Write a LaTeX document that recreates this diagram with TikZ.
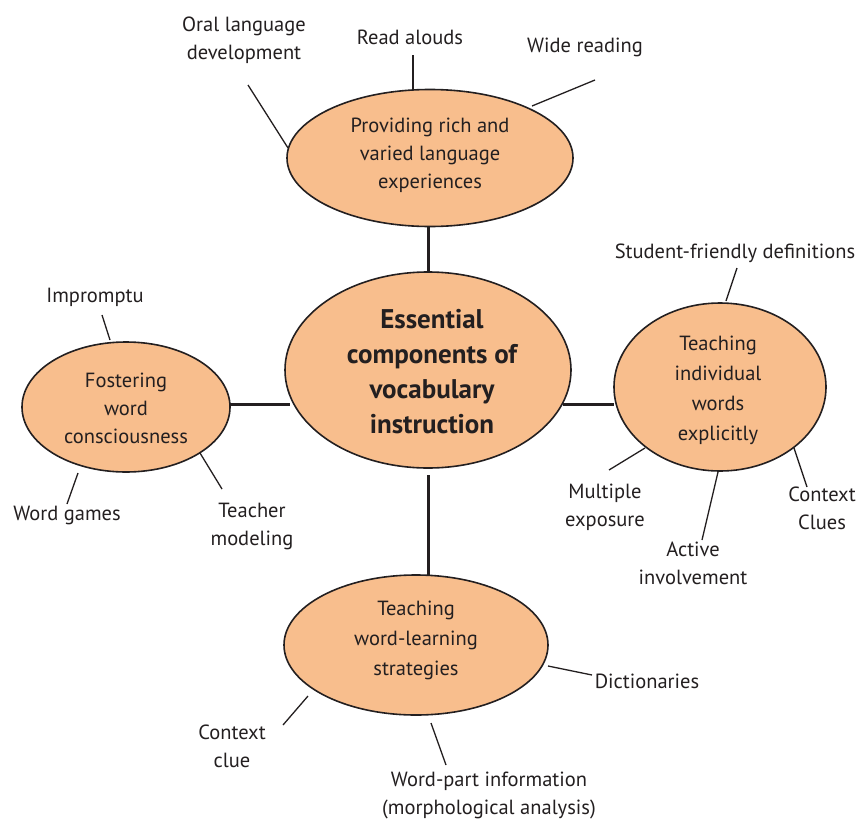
\documentclass[tikz,border=0pt]{standalone}
\usepackage{fontspec}
\setmainfont{PT Sans}
\usetikzlibrary{shapes.geometric}
\definecolor{peach}{HTML}{F8BE8D}
\definecolor{ink}{HTML}{231F20}
\begin{document}
\begin{tikzpicture}[x=1pt,y=-1pt,
  bub/.style={ellipse,draw=ink,line width=1.6pt,fill=peach,inner sep=0pt},
  lbl/.style={align=center,text=ink,font=\fontsize{20.5}{28}\selectfont,inner sep=0pt},
  spoke/.style={draw=ink,line width=1.3pt},
  trunk/.style={draw=ink,line width=3pt}]
\useasboundingbox (0,0) rectangle (861,819);
% ellipses
\node[bub,minimum width=286pt,minimum height=137pt] (top) at (430,158) {};
\node[bub,minimum width=286pt,minimum height=196pt] (ctr) at (428,370) {};
\node[bub,minimum width=208pt,minimum height=130pt] (lft) at (126,407) {};
\node[bub,minimum width=212pt,minimum height=168pt] (rgt) at (720,387) {};
\node[bub,minimum width=264pt,minimum height=140pt] (bot) at (416,645) {};
% ellipse texts
\node[lbl] (topt) at (430,155) {Providing rich and\\varied language\\experiences};
\node[lbl,font=\bfseries\fontsize{27}{35}\selectfont] (ctrt) at (432,372) {Essential\\components of\\vocabulary\\instruction};
\node[lbl] (lftt) at (126,408) {Fostering\\word\\consciousness};
\node[lbl,font=\fontsize{20.5}{30}\selectfont] (rgtt) at (718,390) {Teaching\\individual\\words\\explicitly};
\node[lbl,font=\fontsize{20.5}{30}\selectfont] (bott) at (416,640) {Teaching\\word-learning\\strategies};
% trunks
\coordinate (t1) at (428,227); \coordinate (t2) at (428,272);
\coordinate (l1) at (230,404); \coordinate (l2) at (290,404);
\coordinate (r1) at (563,404); \coordinate (r2) at (614,404);
\coordinate (b1) at (428,475); \coordinate (b2) at (428,576);
\draw[trunk] (t1) -- (t2);
\draw[trunk] (l1) -- (l2);
\draw[trunk] (r1) -- (r2);
\draw[trunk] (b1) -- (b2);
% labels
\node[lbl] (oral) at (244,40) {Oral language\\development};
\node[lbl] (read) at (410,37) {Read alouds};
\node[lbl] (wide) at (585,47) {Wide reading};
\node[lbl] (stud) at (735,253) {Student-friendly definitions};
\node[lbl] (impr) at (95,297) {Impromptu};
\node[lbl] (wgam) at (67,515) {Word games};
\node[lbl] (teach) at (252,526) {Teacher\\modeling};
\node[lbl] (mult) at (605,507) {Multiple\\exposure};
\node[lbl] (ctxc) at (822,508) {Context\\Clues};
\node[lbl] (act) at (693,563) {Active\\involvement};
\node[lbl] (dict) at (647,681) {Dictionaries};
\node[lbl] (ctxl) at (232,746) {Context\\clue};
\node[lbl] (wpart) at (489,795) {Word-part information\\(morphological analysis)};
% spokes
\coordinate (s1a) at (248,85);  \coordinate (s1b) at (288,148);
\coordinate (s2a) at (413,55);  \coordinate (s2b) at (413,90);
\coordinate (s3a) at (595,80);  \coordinate (s3b) at (532,106);
\coordinate (s4a) at (737,268); \coordinate (s4b) at (726,301);
\coordinate (s5a) at (102,315); \coordinate (s5b) at (110,340);
\coordinate (s6a) at (78,473);  \coordinate (s6b) at (67,504);
\coordinate (s7a) at (200,453); \coordinate (s7b) at (222,489);
\coordinate (s8a) at (645,448); \coordinate (s8b) at (609,470);
\coordinate (s9a) at (718,472); \coordinate (s9b) at (702,540);
\coordinate (s10a) at (794,448); \coordinate (s10b) at (807,487);
\coordinate (s11a) at (548,666); \coordinate (s11b) at (592,675);
\coordinate (s12a) at (308,696); \coordinate (s12b) at (283,725);
\coordinate (s13a) at (431,723); \coordinate (s13b) at (446,765);
\foreach \i in {1,...,13} {\draw[spoke] (s\i a) -- (s\i b);}
\end{tikzpicture}
\end{document}
